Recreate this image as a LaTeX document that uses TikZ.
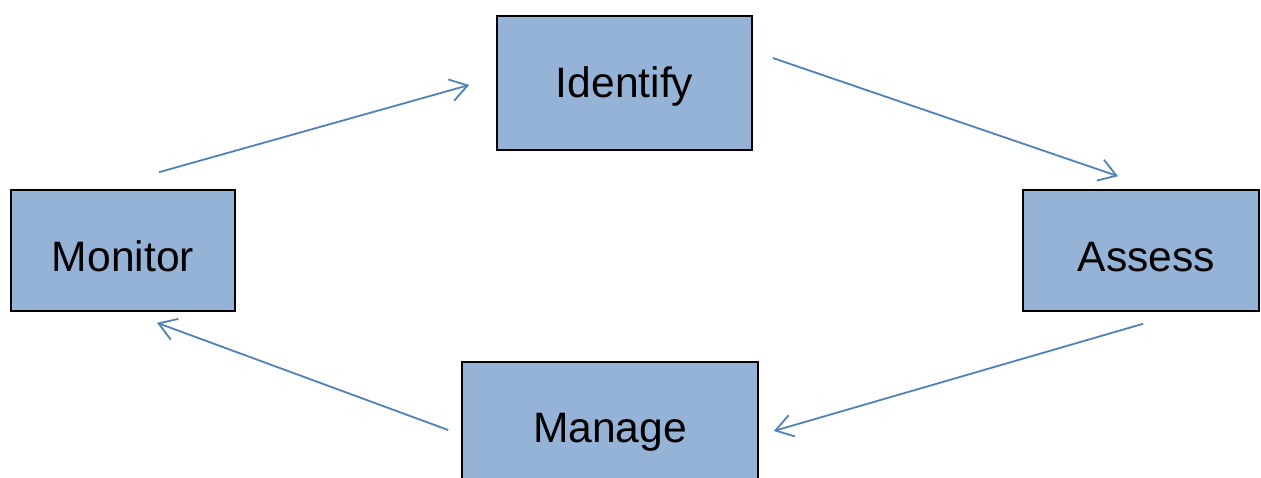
\documentclass[tikz,border=0pt]{standalone}
\usepackage{fontspec}
\setmainfont{Liberation Sans}
\usepackage{xcolor}
\usetikzlibrary{arrows.meta, positioning, calc}
\definecolor{boxblue}{HTML}{95B3D7}
\definecolor{arrowblue}{HTML}{4F81BD}

\begin{document}
\begin{tikzpicture}[x=0.5pt, y=0.5pt,
  box/.style={draw=black, line width=0.8pt, fill=boxblue, inner sep=0pt},
  boxtext/.style={inner sep=0pt, text height=15.3pt, text depth=0pt,
    font=\fontsize{21.3}{25}\selectfont},
  flow/.style={-{Straight Barb[length=8.5pt, width=11pt]}, arrowblue, line width=0.9pt}]
\clip (0,0) rectangle (1261,477);

% Boxes
\node[box, minimum width=127.5pt, minimum height=67pt,
  label={[boxtext, yshift=0.5pt]center:Identify}] (identify) at (624.5,394) {};
\node[box, minimum width=112pt, minimum height=60.5pt,
  label={[boxtext, yshift=-3pt]center:Monitor}] (monitor) at (123,226.5) {};
\node[box, minimum width=118pt, minimum height=60.5pt,
  label={[boxtext, xshift=2.75pt, yshift=-3pt]center:Assess}] (assess) at (1141,226.5) {};
\node[box, minimum width=148pt, minimum height=68pt,
  label={[boxtext, yshift=1.5pt]center:Manage}] (manage) at (610,47) {};

% Cycle
\draw[flow] ([shift={(36,17)}]monitor.north) -- ([shift={(-27,-2)}]identify.west);
\draw[flow] ([shift={(20,25)}]identify.east) -- ([shift={(-23,13)}]assess.north);
\draw[flow] ([shift={(2,-12)}]assess.south) -- ([shift={(15,-1)}]manage.east);
\draw[flow] ([shift={(-13,0)}]manage.west) -- ([shift={(34,-11)}]monitor.south);
\end{tikzpicture}
\end{document}
